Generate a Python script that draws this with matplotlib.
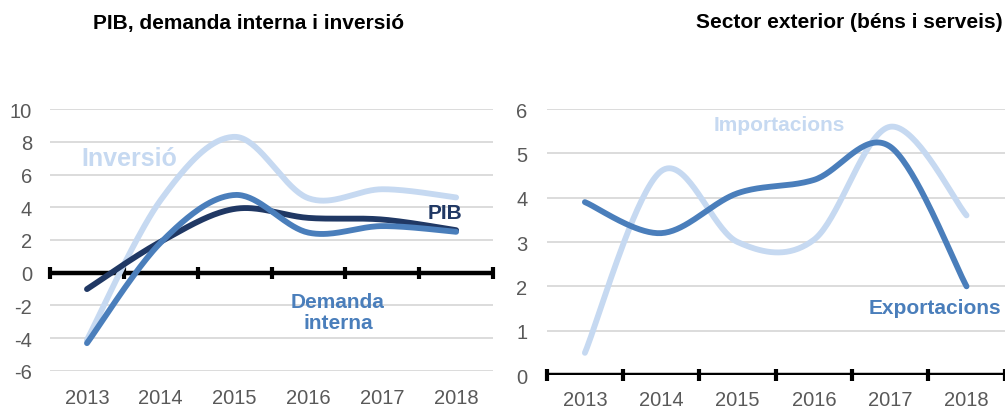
import numpy as np
import matplotlib.pyplot as plt

# Data
years = ["2013", "2014", "2015", "2016", "2017", "2018"]
pib = [-1.0, 1.9, 3.9, 3.35, 3.25, 2.6]
demanda_interna = [-4.3, 1.85, 4.75, 2.45, 2.85, 2.5]
inversio = [-4.1, 4.45, 8.3, 4.55, 5.1, 4.6]
exportacions = [3.9, 3.2, 4.1, 4.4, 5.15, 2.0]
importacions = [0.5, 4.6, 3.0, 3.05, 5.6, 3.6]

DARK = "#203864"
MID = "#4A7EBB"
LIGHT = "#C6D9F1"
GRID = "#D9D9D9"
TICK = "#595959"

plt.rcParams["font.family"] = ["Liberation Sans", "DejaVu Sans"]
plt.rcParams["axes.unicode_minus"] = False


def smooth(y, n=40):
    # Excel-like smoothed line (Catmull-Rom as cubic Bezier)
    y = np.asarray(y, float)
    x = np.arange(len(y), dtype=float)
    px = np.concatenate([[x[0]], x, [x[-1]]])
    py = np.concatenate([[y[0]], y, [y[-1]]])
    xs, ys = [], []
    t = np.linspace(0, 1, n)
    for i in range(len(y) - 1):
        p0 = np.array([px[i + 1], py[i + 1]])
        p3 = np.array([px[i + 2], py[i + 2]])
        p1 = p0 + (p3 - np.array([px[i], py[i]])) / 6
        p2 = p3 - (np.array([px[i + 3], py[i + 3]]) - p0) / 6
        b = ((1 - t) ** 3)[:, None] * p0 + (3 * (1 - t) ** 2 * t)[:, None] * p1 \
            + (3 * (1 - t) * t ** 2)[:, None] * p2 + (t ** 3)[:, None] * p3
        xs.append(b[:, 0])
        ys.append(b[:, 1])
    return np.concatenate(xs), np.concatenate(ys)


def setup(ax, ylim, step, pad_y, pad_x):
    ax.set_xlim(-0.5, len(years) - 0.5)
    ax.set_ylim(*ylim)
    ax.set_yticks(np.arange(ylim[0], ylim[1] + 0.1, step))
    ax.set_xticks(range(len(years)))
    ax.set_xticklabels(years)
    ax.tick_params(axis="both", length=0, labelsize=14.5, labelcolor=TICK)
    ax.tick_params(axis="y", pad=pad_y)
    ax.tick_params(axis="x", pad=pad_x)
    for s in ax.spines.values():
        s.set_visible(False)
    ax.grid(axis="y", color=GRID, lw=1.3)
    ax.set_axisbelow(True)
    ax.axhline(0, color="black", lw=3.2, zorder=3)
    bounds = np.arange(len(years) + 1) - 0.5
    ax.plot(bounds, np.zeros_like(bounds), ls="none", marker="|", ms=9,
            mew=3, color="black", zorder=3, clip_on=False)


fig = plt.figure(figsize=(10.05, 4.10), dpi=100)
ax1 = fig.add_axes([0.0498, 0.0927, 0.4408, 0.639])
ax2 = fig.add_axes([0.544, 0.0829, 0.4557, 0.6488])

setup(ax1, (-6, 10), 2, 13, 12)
for vals, c in [(inversio, LIGHT), (pib, DARK), (demanda_interna, MID)]:
    xs, ys = smooth(vals)
    ax1.plot(xs, ys, color=c, lw=4.2, solid_capstyle="round", zorder=4)
ax1.text(0.57, 7.0, "Inversió", color=LIGHT, fontsize=18, fontweight="bold",
         ha="center", va="center")
ax1.text(4.85, 3.65, "PIB", color=DARK, fontsize=15, fontweight="bold",
         ha="center", va="center")
ax1.text(3.4, -2.4, "Demanda\ninterna", color=MID, fontsize=15, fontweight="bold",
         ha="center", va="center", linespacing=1.1)

setup(ax2, (0, 6), 1, 14, 11)
for vals, c in [(importacions, LIGHT), (exportacions, MID)]:
    xs, ys = smooth(vals)
    ax2.plot(xs, ys, color=c, lw=4.2, solid_capstyle="round", zorder=4)
ax2.text(2.55, 5.65, "Importacions", color=LIGHT, fontsize=15, fontweight="bold",
         ha="center", va="center")
ax2.text(4.59, 1.53, "Exportacions", color=MID, fontsize=15, fontweight="bold",
         ha="center", va="center")

fig.text(93 / 1005, 1 - 23 / 410, "PIB, demanda interna i inversió",
         fontsize=15, fontweight="bold", ha="left", va="center")
fig.text(696 / 1005, 1 - 23 / 410, "Sector exterior (béns i serveis)",
         fontsize=15, fontweight="bold", ha="left", va="center")

fig.savefig("out.png", dpi=100)
